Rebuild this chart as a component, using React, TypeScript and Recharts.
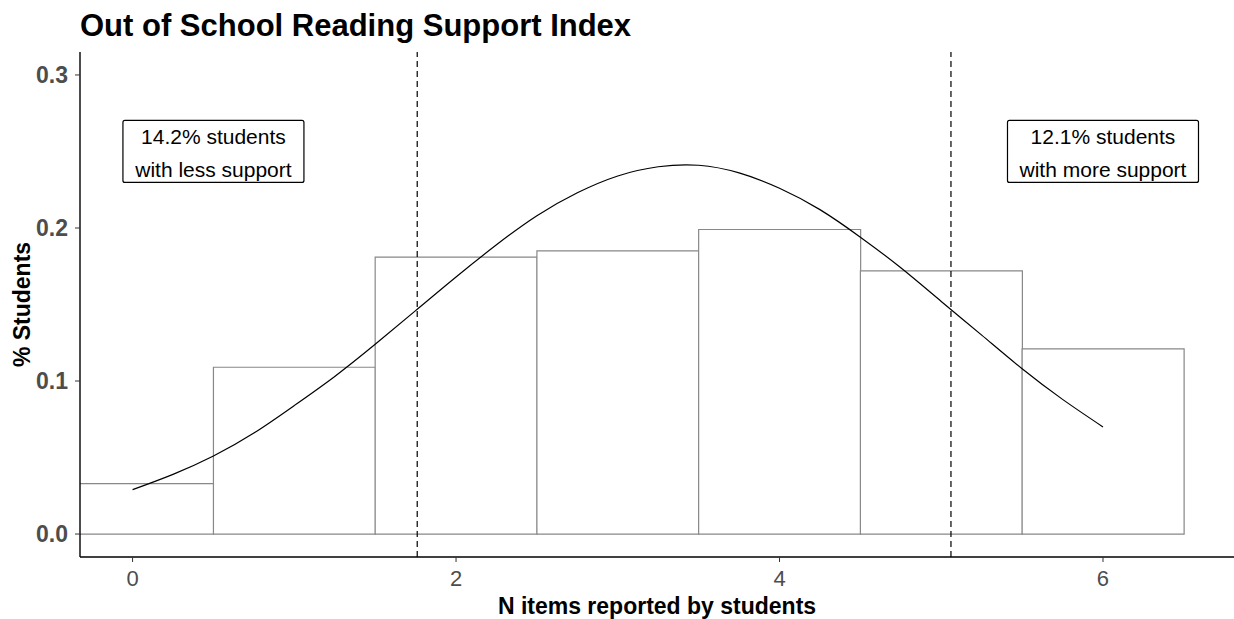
import React from 'react';
import { ComposedChart, Bar, Line, XAxis, YAxis, ReferenceLine, ReferenceDot, Label } from 'recharts';

// histogram: share of students by number of items reported
const bins = [0, 1, 2, 3, 4, 5, 6];
const shares = [0.033, 0.109, 0.181, 0.185, 0.199, 0.172, 0.121];

// fitted normal curve, read at quarter steps
const curveX = [0, 0.25, 0.5, 0.75, 1, 1.25, 1.5, 1.75, 2, 2.25, 2.5, 2.75, 3, 3.25, 3.5, 3.75, 4, 4.25, 4.5, 4.75, 5, 5.25, 5.5, 5.75, 6];
const curveY = [0.029, 0.039, 0.051, 0.066, 0.084, 0.103, 0.124, 0.146, 0.168, 0.189, 0.208, 0.223, 0.234, 0.240, 0.241, 0.236, 0.226, 0.212, 0.194, 0.174, 0.152, 0.130, 0.108, 0.088, 0.070];

// mean - sd and mean + sd
const cutoffs = [1.76, 5.06];

const xTicks = [0, 2, 4, 6];
const yTicks = [0, 0.1, 0.2, 0.3];

const noteX = [0.5, 6];
const noteY = 0.25;
const noteLines = [
  ['14.2% students', 'with less support'],
  ['12.1% students', 'with more support'],
];

const FONT = '"Liberation Sans", Arial, sans-serif';
const X_DOMAIN: [number, number] = [-0.325, 6.81];
const Y_DOMAIN: [number, number] = [-0.015, 0.315];
const NOTE_WIDTHS = [181, 191];

const barData = bins.map((bin, i) => ({ bin, share: shares[i] }));
const curveData = curveX.map((x, i) => ({ x, y: curveY[i] }));

const NoteBox = (props: any) => {
  const { cx, cy, lines, w } = props;
  const h = 62;
  return (
    <g>
      <rect x={cx - w / 2} y={cy - h / 2} width={w} height={h} rx={2} ry={2} fill="#fff" stroke="#000" strokeWidth={1.2} />
      {lines.map((t: string, i: number) => (
        <text key={t} x={cx} y={cy - 15 + i * 33} textAnchor="middle" dominantBaseline="central" fontFamily={FONT} fontSize={21} fill="#000">
          {t}
        </text>
      ))}
    </g>
  );
};

export default function App() {
  return (
    <div style={{ position: 'absolute', left: 0, top: 0, width: 1234, height: 619, background: '#fff' }}>
      <div style={{ position: 'absolute', left: 80, top: 8, fontFamily: FONT, fontWeight: 'bold', fontSize: 31, color: '#000', whiteSpace: 'nowrap', lineHeight: '36px' }}>
        Out of School Reading Support Index
      </div>
      <ComposedChart
        width={1234}
        height={619}
        data={barData}
        margin={{ top: 52, right: 0, bottom: 0, left: 0 }}
        barCategoryGap={0}
        barGap={0}
      >
        <XAxis xAxisId="bin" dataKey="bin" type="number" domain={X_DOMAIN} allowDataOverflow hide height={0} />
        <XAxis
          xAxisId="x"
          dataKey="x"
          type="number"
          domain={X_DOMAIN}
          allowDataOverflow
          ticks={xTicks}
          height={62}
          axisLine={{ stroke: '#000', strokeWidth: 1.4 }}
          tickLine={{ stroke: '#333' }}
          tickSize={5}
          tickMargin={8}
          tick={{ fill: '#4d4d4d', fontSize: 22, fontFamily: FONT }}
        >
          <Label value="N items reported by students" position="insideBottom" offset={5} fill="#000" fontSize={23} fontWeight="bold" fontFamily={FONT} />
        </XAxis>
        <YAxis
          type="number"
          domain={Y_DOMAIN}
          allowDataOverflow
          ticks={yTicks}
          width={80}
          tickFormatter={(v: number) => v.toFixed(1)}
          axisLine={{ stroke: '#000', strokeWidth: 1.4 }}
          tickLine={{ stroke: '#333' }}
          tickSize={5}
          tickMargin={7}
          tick={{ fill: '#4d4d4d', fontSize: 23, fontWeight: 'bold', fontFamily: FONT }}
        >
          <Label
            content={(p: any) => {
              const vb = p.viewBox || { x: 0, y: 52, width: 80, height: 505 };
              const cy = vb.y + vb.height / 2;
              return (
                <text x={22} y={cy} transform={`rotate(-90, 22, ${cy})`} textAnchor="middle" dominantBaseline="central" fontFamily={FONT} fontSize={23} fontWeight="bold" fill="#000">
                  % Students
                </text>
              );
            }}
          />
        </YAxis>
        <Bar xAxisId="bin" dataKey="share" fill="#fff" stroke="#888" strokeWidth={1.2} isAnimationActive={false} />
        <Line xAxisId="x" data={curveData} dataKey="y" type="natural" stroke="#000" strokeWidth={1.2} dot={false} isAnimationActive={false} />
        {cutoffs.map((c) => (
          <ReferenceLine key={c} xAxisId="x" x={c} stroke="#000" strokeWidth={1.2} strokeDasharray="6 4" />
        ))}
        {noteX.map((x, i) => (
          <ReferenceDot key={x} xAxisId="x" x={x} y={noteY} r={0} shape={(p: any) => <NoteBox {...p} w={NOTE_WIDTHS[i]} lines={noteLines[i]} />} />
        ))}
      </ComposedChart>
    </div>
  );
}
